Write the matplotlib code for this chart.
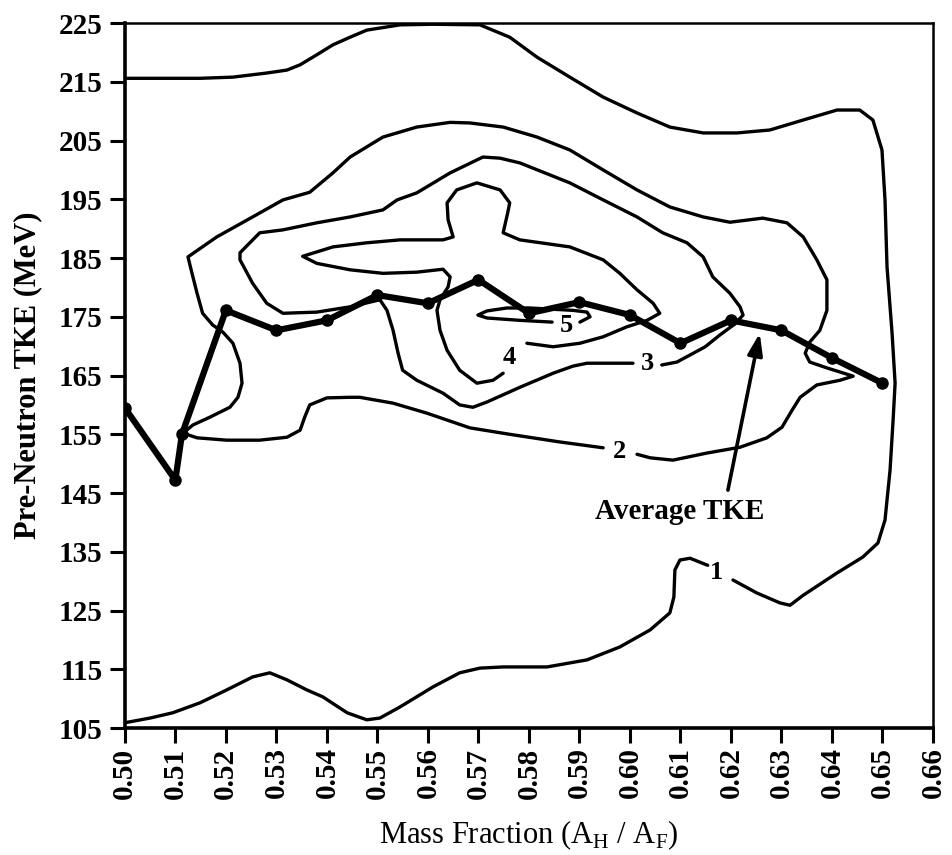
import matplotlib
matplotlib.use("Agg")
import numpy as np
from matplotlib import pyplot as plt

plt.rcParams['font.family'] = ['Liberation Serif', 'DejaVu Serif']
plt.rcParams['mathtext.fontset'] = 'custom'
plt.rcParams['mathtext.rm'] = 'Liberation Serif'

# average pre-neutron TKE vs mass fraction
avg_x = [0.50, 0.51, 0.5113, 0.52, 0.53, 0.54, 0.55, 0.56, 0.57, 0.58,
         0.59, 0.60, 0.61, 0.62, 0.63, 0.64, 0.65]
avg_y = [159.5, 147.2, 155.0, 176.1, 172.7, 174.4, 178.7, 177.3, 181.3, 175.6,
         177.5, 175.3, 170.5, 174.4, 172.7, 168.0, 163.7]

# contour 1 (outermost), split at its label
contour_1a = [(0.5000, 215.6), (0.5149, 215.6), (0.5214, 215.8), (0.5281, 216.5),
              (0.5321, 217.0), (0.5347, 217.9), (0.5380, 219.6), (0.5412, 221.3),
              (0.5446, 222.6), (0.5479, 223.8), (0.5545, 224.7), (0.5610, 224.8),
              (0.5703, 224.7), (0.5762, 222.6), (0.5816, 219.2), (0.5881, 215.8),
              (0.5947, 212.4), (0.6014, 209.7), (0.6079, 207.3), (0.6145, 206.3),
              (0.6212, 206.3), (0.6277, 206.8), (0.6343, 208.5), (0.6410, 210.2),
              (0.6455, 210.2), (0.6481, 208.5), (0.6499, 203.4), (0.6505, 194.9),
              (0.6509, 183.5), (0.6519, 172.2), (0.6525, 163.7), (0.6521, 157.4),
              (0.6515, 148.9), (0.6505, 140.4), (0.6491, 136.5), (0.6461, 134.1),
              (0.6410, 131.4), (0.6343, 127.6), (0.6317, 125.9), (0.6297, 126.3),
              (0.6251, 128.0), (0.6204, 130.2)]
contour_1b = [(0.6154, 132.7), (0.6119, 133.9), (0.6099, 133.6), (0.6089, 131.9),
              (0.6087, 127.3), (0.6079, 124.6), (0.6040, 121.7), (0.5980, 118.8),
              (0.5915, 116.6), (0.5836, 115.4), (0.5749, 115.4), (0.5703, 115.2),
              (0.5663, 114.4), (0.5610, 112.0), (0.5545, 108.6), (0.5505, 106.7),
              (0.5479, 106.4), (0.5440, 107.6), (0.5392, 110.3), (0.5360, 111.5),
              (0.5321, 113.2), (0.5287, 114.4), (0.5253, 113.7), (0.5202, 111.5),
              (0.5149, 109.3), (0.5095, 107.6), (0.5050, 106.7), (0.5000, 105.9)]

contour_2 = [(0.6014, 151.6), (0.6040, 151.0), (0.6085, 150.6), (0.6152, 151.8),
             (0.6218, 152.8), (0.6271, 154.4), (0.6301, 156.2), (0.6321, 159.1),
             (0.6337, 161.3), (0.6370, 163.4), (0.6416, 164.2), (0.6442, 164.9),
             (0.6390, 166.3), (0.6356, 167.3), (0.6347, 168.8), (0.6356, 170.7),
             (0.6376, 172.7), (0.6390, 176.1), (0.6390, 181.3), (0.6370, 184.7),
             (0.6343, 188.6), (0.6311, 191.0), (0.6263, 191.8), (0.6198, 191.1),
             (0.6145, 192.0), (0.6079, 193.7), (0.6014, 196.6), (0.5947, 200.0),
             (0.5881, 203.4), (0.5816, 205.6), (0.5749, 207.3), (0.5683, 208.0),
             (0.5644, 208.1), (0.5578, 207.3), (0.5511, 205.6), (0.5446, 202.2),
             (0.5412, 199.5), (0.5366, 196.2), (0.5313, 194.9), (0.5253, 192.0),
             (0.5182, 188.6), (0.5125, 185.2), (0.5133, 182.4), (0.5143, 179.0),
             (0.5154, 175.6), (0.5174, 173.6), (0.5194, 172.4), (0.5214, 170.5),
             (0.5228, 167.1), (0.5232, 163.7), (0.5224, 161.3), (0.5208, 159.6),
             (0.5168, 157.9), (0.5135, 156.6), (0.5115, 155.2), (0.5143, 154.4),
             (0.5202, 154.0), (0.5267, 154.0), (0.5321, 154.5), (0.5347, 155.7),
             (0.5356, 157.9), (0.5366, 160.0), (0.5400, 161.2), (0.5446, 161.3),
             (0.5465, 161.3), (0.5531, 160.3), (0.5598, 158.6), (0.5683, 156.1),
             (0.5762, 155.0), (0.5861, 153.7), (0.5947, 152.7)]

contour_3 = [(0.6006, 167.1), (0.5915, 167.1), (0.5887, 166.6), (0.5848, 165.4),
             (0.5782, 163.0), (0.5717, 160.5), (0.5689, 159.6), (0.5663, 160.0),
             (0.5630, 162.0), (0.5578, 164.2), (0.5550, 165.9), (0.5541, 168.8),
             (0.5531, 172.7), (0.5519, 176.1), (0.5505, 177.9), (0.5446, 176.7),
             (0.5380, 175.8), (0.5313, 175.6), (0.5281, 177.3), (0.5253, 180.7),
             (0.5228, 184.7), (0.5228, 185.9), (0.5267, 189.3), (0.5313, 189.8),
             (0.5380, 191.0), (0.5446, 192.0), (0.5511, 193.2), (0.5539, 194.9),
             (0.5578, 196.1), (0.5644, 199.5), (0.5709, 202.2), (0.5743, 202.0),
             (0.5782, 201.2), (0.5881, 197.8), (0.5947, 194.9), (0.6014, 192.0),
             (0.6065, 189.3), (0.6113, 187.6), (0.6145, 185.2), (0.6164, 181.8),
             (0.6198, 179.0), (0.6218, 176.7), (0.6224, 175.3), (0.6208, 173.8),
             (0.6178, 171.9), (0.6149, 169.9), (0.6119, 168.5), (0.6093, 167.3),
             (0.6063, 166.8)]

contour_4 = [(0.5796, 170.5), (0.5848, 169.9), (0.5901, 170.5), (0.5947, 171.6),
             (0.5994, 173.3), (0.6034, 174.4), (0.6059, 175.6), (0.6046, 177.3),
             (0.6014, 179.6), (0.5980, 182.4), (0.5947, 184.7), (0.5881, 186.9),
             (0.5782, 188.1), (0.5749, 189.3), (0.5758, 192.7), (0.5762, 194.4),
             (0.5743, 196.6), (0.5697, 197.8), (0.5657, 196.6), (0.5638, 194.4),
             (0.5640, 191.5), (0.5650, 188.6), (0.5630, 188.1), (0.5545, 188.1),
             (0.5479, 187.6), (0.5412, 186.9), (0.5352, 185.3), (0.5380, 184.1),
             (0.5446, 183.0), (0.5511, 182.4), (0.5578, 182.6), (0.5630, 183.1),
             (0.5644, 181.8), (0.5640, 180.1), (0.5624, 177.9), (0.5618, 176.1),
             (0.5624, 172.7), (0.5638, 169.3), (0.5663, 165.9), (0.5697, 163.7),
             (0.5729, 164.2), (0.5749, 165.4)]

contour_5 = [(0.5901, 174.1), (0.5921, 175.0), (0.5915, 175.8), (0.5887, 176.1),
             (0.5802, 176.5), (0.5756, 176.5), (0.5717, 176.0), (0.5699, 175.3),
             (0.5717, 174.8), (0.5782, 174.4), (0.5846, 174.1)]

# contour labels
label_text = ['1', '2', '3', '4', '5']
label_x = [0.6172, 0.5980, 0.6034, 0.5762, 0.5875]
label_y = [131.4, 152.1, 167.0, 168.0, 173.6]

x_ticks = np.round(np.arange(0.50, 0.661, 0.01), 2)
y_ticks = list(range(105, 226, 10))

fig = plt.figure(figsize=(9.53, 8.55), dpi=100)
ax = fig.add_axes([0.131, 0.1485, 0.848, 0.8245])

for c in [contour_1a, contour_1b, contour_2, contour_3, contour_4, contour_5]:
    xs, ys = zip(*c)
    ax.plot(xs, ys, color='black', lw=2.4, solid_joinstyle='round',
            solid_capstyle='round', zorder=2)

for t, lx, ly in zip(label_text, label_x, label_y):
    ax.text(lx, ly, t, fontsize=19, fontweight='bold', ha='center', va='center',
            zorder=4)

ax.plot(avg_x, avg_y, color='black', lw=4.5, marker='o', markersize=8,
        solid_joinstyle='round', zorder=3)

ax.annotate('', xy=(0.6257, 172.2), xytext=(0.6194, 145.5),
            arrowprops=dict(arrowstyle='-|>,head_length=1.3,head_width=0.45',
                            color='black', lw=2.6, shrinkA=0, shrinkB=0))
ax.text(0.6099, 141.8, 'Average TKE', fontsize=21, fontweight='bold',
        ha='center', va='center')

ax.set_xlim(0.50, 0.66)
ax.set_ylim(105, 225)
ax.set_xticks(x_ticks)
ax.set_xticklabels([f'{v:.2f}' for v in x_ticks], rotation=90)
ax.set_yticks(y_ticks)
ax.tick_params(direction='out', length=11, width=2.2)
ax.tick_params(axis='y', pad=5, labelsize=21)
ax.tick_params(axis='x', pad=3, labelsize=21)
for lab in ax.get_xticklabels() + ax.get_yticklabels():
    lab.set_fontweight('bold')

for side in ['left', 'bottom']:
    ax.spines[side].set_linewidth(2.6)
for side in ['top', 'right']:
    ax.spines[side].set_linewidth(1.8)

ax.set_ylabel('Pre-Neutron TKE (MeV)', fontsize=22, fontweight='bold', labelpad=12)
ax.set_xlabel('Mass Fraction (A$_\\mathrm{H}$ / A$_\\mathrm{F}$)', fontsize=22,
              labelpad=14)

fig.savefig('out.png', dpi=100)
